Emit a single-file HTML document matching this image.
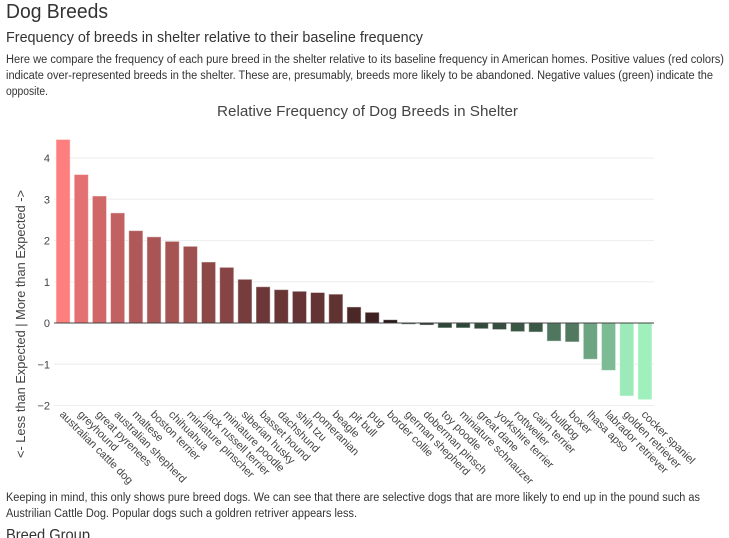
<!DOCTYPE html>
<html><head><meta charset="utf-8"><style>
body{margin:0;background:#fff;}
svg{display:block;font-family:"Liberation Sans",sans-serif;}
</style></head><body>
<svg id="page" width="729" height="538">
<text x="6" y="18" font-size="20" fill="#333" textLength="102" lengthAdjust="spacingAndGlyphs">Dog Breeds</text>
<text x="6" y="42" font-size="15" fill="#333" textLength="417" lengthAdjust="spacingAndGlyphs">Frequency of breeds in shelter relative to their baseline frequency</text>
<g font-size="11.5" fill="#333">
<text x="6" y="63" textLength="718" lengthAdjust="spacingAndGlyphs">Here we compare the frequency of each pure breed in the shelter relative to its baseline frequency in American homes. Positive values (red colors)</text>
<text x="6" y="79" textLength="707" lengthAdjust="spacingAndGlyphs">indicate over-represented breeds in the shelter. These are, presumably, breeds more likely to be abandoned. Negative values (green) indicate the</text>
<text x="6" y="95" textLength="42" lengthAdjust="spacingAndGlyphs">opposite.</text>
</g>
<text x="217" y="116" font-size="15" fill="#444" textLength="301" lengthAdjust="spacingAndGlyphs">Relative Frequency of Dog Breeds in Shelter</text>
<text transform="translate(25,324) rotate(-90)" text-anchor="middle" font-size="12.5" fill="#444" textLength="268" lengthAdjust="spacingAndGlyphs">&lt;- Less than Expected | More than Expected -&gt;</text>
<g id="grid"></g><g id="bars"></g><g id="yticks"></g><g id="xlabels"></g>
<g font-size="11.5" fill="#333">
<text x="6" y="501" textLength="694" lengthAdjust="spacingAndGlyphs">Keeping in mind, this only shows pure breed dogs. We can see that there are selective dogs that are more likely to end up in the pound such as</text>
<text x="6" y="517" textLength="351" lengthAdjust="spacingAndGlyphs">Austrilian Cattle Dog. Popular dogs such a goldren retriver appears less.</text>
</g>
<text x="6" y="540" font-size="16" fill="#333" textLength="84" lengthAdjust="spacingAndGlyphs">Breed Group</text>
</svg>
<script>
const breeds=["australian cattle dog","greyhound","great pyrenees","australian shepherd","maltese","boston terrier","chihuahua","miniature pinscher","jack russell terrier","miniature poodle","siberian husky","basset hound","dachshund","shih tzu","pomeranian","beagle","pit bull","pug","border collie","german shepherd","doberman pinsch","toy poodle","miniature schnauzer","great dane","yorkshire terrier","rottweiler","cairn terrier","bulldog","boxer","lhasa apso","labrador retriever","golden retriever","cocker spaniel"];
const values=[4.45,3.6,3.08,2.67,2.24,2.09,1.98,1.86,1.48,1.35,1.06,0.88,0.81,0.77,0.74,0.70,0.39,0.26,0.08,-0.03,-0.05,-0.12,-0.12,-0.14,-0.16,-0.21,-0.22,-0.44,-0.46,-0.88,-1.15,-1.77,-1.86];
const yTicks=[-2,-1,0,1,2,3,4];
const NS="http://www.w3.org/2000/svg";
const x0=54,x1=654,y0px=323,ppu=41.25;
const step=(x1-x0)/breeds.length;
const X=i=>x0+step*(i+0.5);
const Y=v=>y0px-v*ppu;
const maxV=Math.max(...values),minV=Math.min(...values);
function color(v){
  if(v>=0){const t=Math.pow(v/maxV,0.6);return `rgb(${Math.round(20+235*t)},${Math.round(12+115*t)},${Math.round(12+115*t)})`;}
  const t=Math.pow(v/minV,0.6);return `rgb(${Math.round(20+140*t)},${Math.round(30+210*t)},${Math.round(25+165*t)})`;
}
function mk(tag,attrs,parent){const e=document.createElementNS(NS,tag);for(const k in attrs)e.setAttribute(k,attrs[k]);parent.appendChild(e);return e;}
const grid=document.getElementById('grid'),bars=document.getElementById('bars'),yt=document.getElementById('yticks'),xl=document.getElementById('xlabels');
yTicks.forEach(t=>{
  if(t!==0){const l=mk('line',{x1:x0,x2:x1,y1:Y(t),y2:Y(t),stroke:'#eee','stroke-width':1},grid);
  
  }
  const tx=mk('text',{x:50,y:Y(t)+4,'text-anchor':'end','font-size':11,fill:'#444'},yt);
  tx.textContent=t<0?'\u2212'+Math.abs(t):String(t);
  
  
});
values.forEach((v,i)=>{
  const w=step*0.78;
  const r=mk('rect',{x:X(i)-w/2,y:Math.min(Y(v),y0px),width:w,height:Math.abs(Y(v)-y0px),fill:color(v),stroke:'rgba(255,255,255,0.5)','stroke-width':1},bars);
  
  
  const tx=mk('text',{transform:`translate(${X(i)-4},${415}) rotate(45)`,'font-size':11,fill:'#444'},xl);
  tx.textContent=breeds[i];
  
  
});
const z=mk('line',{x1:x0,x2:x1,y1:y0px,y2:y0px,stroke:'#444','stroke-width':1},bars);


</script>
</body></html>
